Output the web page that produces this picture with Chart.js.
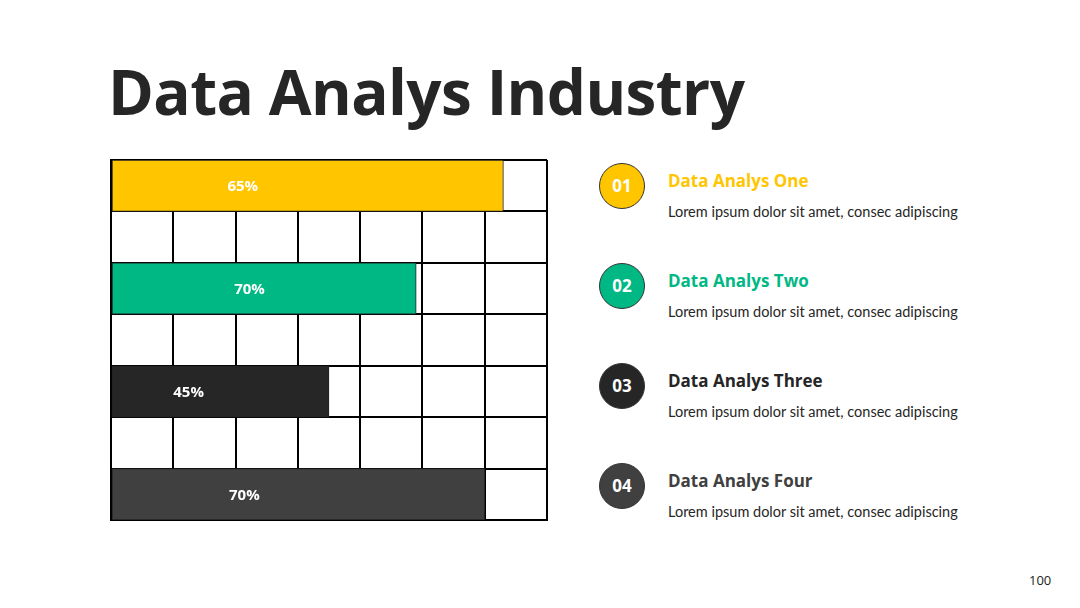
<!DOCTYPE html>
<html>
<head>
<meta charset="utf-8">
<script src="https://cdn.jsdelivr.net/npm/chart.js@4/dist/chart.umd.min.js"></script>
<style>
  html, body { margin: 0; padding: 0; background: #fff; }
  body { width: 1080px; height: 608px; position: relative; overflow: hidden; font-family: "Open Sans", sans-serif; }
  h1 { position: absolute; left: 108px; top: 49px; margin: 0; font-size: 62px; font-weight: 700; color: #262626; letter-spacing: -0.6px; }
  #wrap { position: absolute; left: 109px; top: 158px; width: 440px; height: 364px; }
  .item { position: absolute; left: 599px; width: 420px; height: 60px; }
  .dot { position: absolute; left: 0; top: 0; width: 46px; height: 46px; border-radius: 50%; box-sizing: border-box; border: 1px solid #333;
         color: #fff; font-weight: 700; font-size: 17px; line-height: 44px; text-align: center; }
  .head { position: absolute; left: 69px; top: 6px; font-weight: 700; font-size: 17px; white-space: nowrap; }
  .desc { position: absolute; left: 69px; top: 40px; font-family: Lato, sans-serif; font-size: 14.5px; color: #262626; white-space: nowrap; }
  #page { position: absolute; left: 1029px; top: 571px; font-size: 13px; color: #222; }
</style>
</head>
<body>
<h1>Data Analys Industry</h1>
<div id="wrap"><canvas id="chart"></canvas></div>
<div id="legend"></div>
<div id="page">100</div>
<script>
// rows of the grid (top to bottom); empty rows carry no bar
const rows = ["Data Analys One", "", "Data Analys Two", "", "Data Analys Three", "", "Data Analys Four"];
// bar length in grid columns (7 columns wide)
const barLength = [6.3, null, 4.9, null, 3.5, null, 6.0];
const barLabels = ["65%", "", "70%", "", "45%", "", "70%"];
const barColors = ["#FFC600", "#fff", "#00B884", "#fff", "#262626", "#fff", "#404040"];

const items = ["Data Analys One", "Data Analys Two", "Data Analys Three", "Data Analys Four"];
const itemNumbers = ["01", "02", "03", "04"];
const itemColors = ["#FFC600", "#00B884", "#262626", "#404040"];
const itemText = "Lorem ipsum dolor sit amet, consec adipiscing";

// legend on the right
const legend = document.getElementById("legend");
items.forEach((name, i) => {
  const el = document.createElement("div");
  el.className = "item";
  el.style.top = 163 + i * 100 + "px";
  el.innerHTML =
    `<div class="dot" style="background:${itemColors[i]}">${itemNumbers[i]}</div>` +
    `<div class="head" style="color:${itemColors[i]}">${name}</div>` +
    `<div class="desc">${itemText}</div>`;
  legend.appendChild(el);
});

// white percentage labels drawn inside the bars
const barText = {
  id: "barText",
  afterDatasetsDraw(chart, args, opts) {
    const ctx = chart.ctx;
    const meta = chart.getDatasetMeta(0);
    ctx.save();
    ctx.fillStyle = "#fff";
    ctx.font = "700 15px 'Open Sans', sans-serif";
    ctx.textAlign = "center";
    ctx.textBaseline = "middle";
    meta.data.forEach((bar, i) => {
      if (!barLabels[i]) return;
      const x = bar.base + (bar.x - bar.base) * opts.anchor[i];
      ctx.fillText(barLabels[i], x, bar.y + 1);
    });
    ctx.restore();
  },
};

new Chart(document.getElementById("chart"), {
  type: "bar",
  data: {
    labels: rows,
    datasets: [
      {
        data: barLength,
        backgroundColor: barColors,
        borderColor: "#222",
        borderWidth: 1,
        borderSkipped: false,
        barPercentage: 1,
        categoryPercentage: 1,
      },
    ],
  },
  options: {
    indexAxis: "y",
    responsive: true,
    maintainAspectRatio: false,
    animation: false,
    layout: { padding: 2 },
    plugins: {
      legend: { display: false },
      tooltip: { enabled: false },
      barText: { anchor: [0.334, 0, 0.452, 0, 0.353, 0, 0.355] },
    },
    scales: {
      x: {
        min: 0,
        max: 7,
        ticks: { display: false, stepSize: 1 },
        grid: { color: "#000", lineWidth: 2, drawTicks: false },
        border: { color: "#000", width: 2 },
      },
      y: {
        ticks: { display: false },
        grid: { color: "#000", lineWidth: 2, drawTicks: false, offset: true },
        border: { color: "#000", width: 2 },
      },
    },
  },
  plugins: [barText],
});
</script>
</body>
</html>
